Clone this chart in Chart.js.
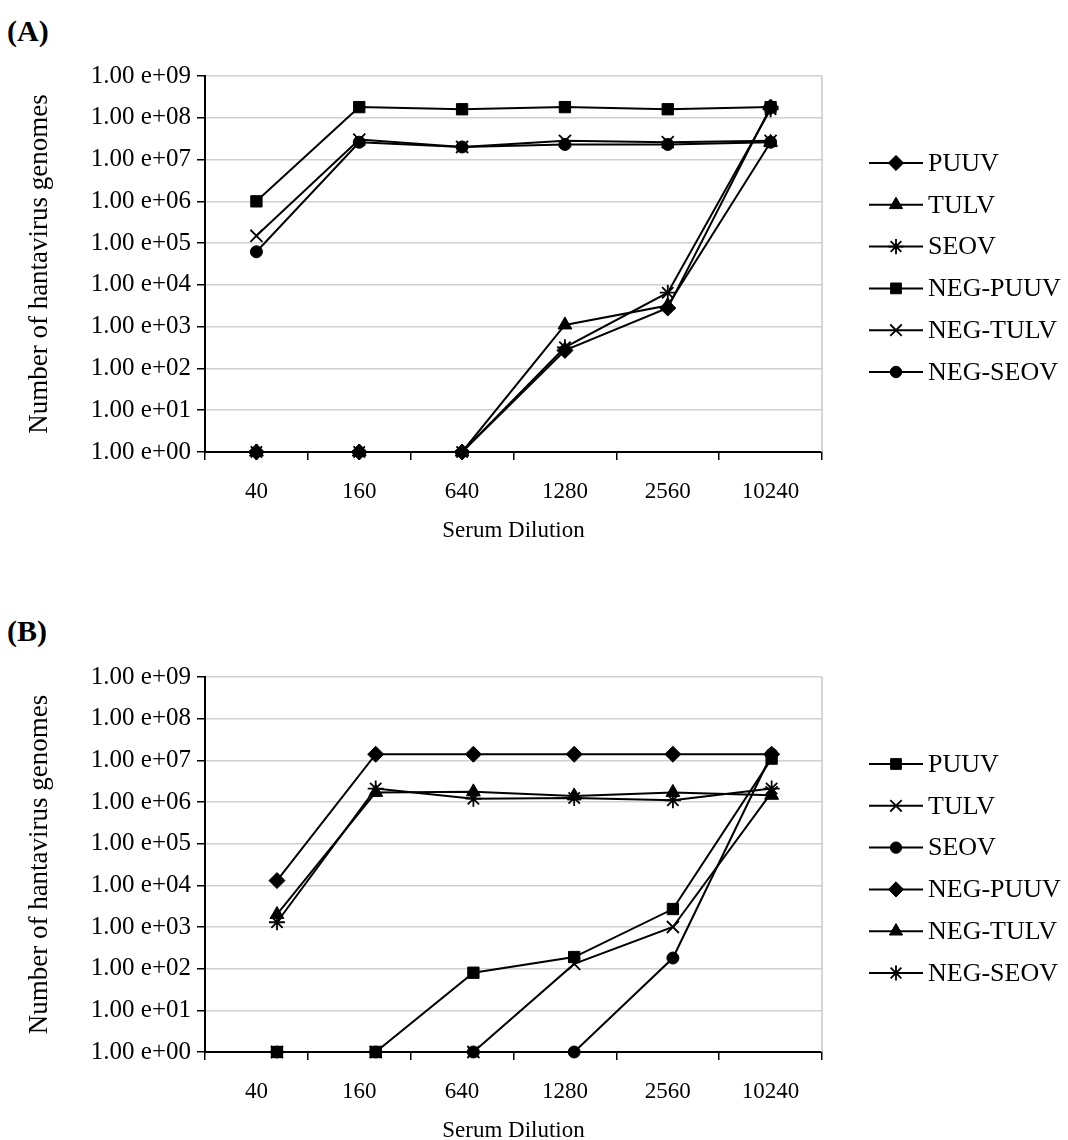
<!DOCTYPE html>
<html>
<head>
<meta charset="utf-8">
<script src="https://cdn.jsdelivr.net/npm/chart.js@4/dist/chart.umd.min.js"></script>
<style>
  html, body { margin: 0; padding: 0; background: #fff; }
  body { width: 1068px; height: 1140px; position: relative; overflow: hidden; font-family: "Liberation Serif", "Times New Roman", serif; }
  .wrap { position: absolute; left: 0; width: 1068px; height: 540px; }
  #wrapA { top: 0; }
  #wrapB { top: 600px; }
  .tag { position: absolute; left: 7px; font-weight: bold; font-size: 30px; line-height: 30px; }
</style>
</head>
<body>
<div class="tag" style="top:16px">(A)</div>
<div class="tag" style="top:616px">(B)</div>
<div class="wrap" id="wrapA"><canvas id="chartA" width="1068" height="540"></canvas></div>
<div class="wrap" id="wrapB"><canvas id="chartB" width="1068" height="540"></canvas></div>
<script>
const categories = ['40', '160', '640', '1280', '2560', '10240'];
const seriesNames = ['PUUV', 'TULV', 'SEOV', 'NEG-PUUV', 'NEG-TULV', 'NEG-SEOV'];
const yTickValues = [1, 1e1, 1e2, 1e3, 1e4, 1e5, 1e6, 1e7, 1e8, 1e9];
const yTickLabels = ['1.00 e+00', '1.00 e+01', '1.00 e+02', '1.00 e+03', '1.00 e+04',
                     '1.00 e+05', '1.00 e+06', '1.00 e+07', '1.00 e+08', '1.00 e+09'];

// (A) points sit on the category centres
const xPosA = [0, 1, 2, 3, 4, 5];
const puuvA    = [1, 1, 1, 270, 2800, 1.8e8];
const tulvA    = [1, 1, 1, 1100, 3200, 2.6e7];
const seovA    = [1, 1, 1, 320, 6500, 1.6e8];
const negPuuvA = [1.0e6, 1.8e8, 1.6e8, 1.8e8, 1.6e8, 1.8e8];
const negTulvA = [1.5e5, 3.0e7, 2.0e7, 2.8e7, 2.6e7, 2.8e7];
const negSeovA = [6.2e4, 2.6e7, 2.0e7, 2.3e7, 2.3e7, 2.6e7];

// (B) points are drawn a bit right of the centres in the original
const xPosB = [0.20, 1.16, 2.11, 3.09, 4.05, 5.01];
const puuvB    = [1, 1, 80, 190, 2700, 1.1e7];
const tulvB    = [1, 1, 1, 130, 1000, 1.7e6];
const seovB    = [1, 1, 1, 1, 180, 1.4e7];
const negPuuvB = [1.3e4, 1.4e7, 1.4e7, 1.4e7, 1.4e7, 1.4e7];
const negTulvB = [2.0e3, 1.7e6, 1.75e6, 1.4e6, 1.7e6, 1.45e6];
const negSeovB = [1.3e3, 2.1e6, 1.2e6, 1.25e6, 1.1e6, 2.1e6];

const markersA = ['rectRot', 'triangle', 'star', 'rect', 'crossRot', 'circle'];
const markersB = ['rect', 'crossRot', 'circle', 'rectRot', 'triangle', 'star'];
const markerSize = { rect: 8, rectRot: 8, triangle: 8, circle: 6, crossRot: 8.5, star: 8 };

Chart.defaults.font.family = '"Liberation Serif", "Times New Roman", serif';
Chart.defaults.color = '#000';

// grey right edge of the plot + legend with a line through each marker
const frameLegend = {
  id: 'frameLegend',
  beforeDatasetsDraw(chart) {
    const { ctx, chartArea } = chart;
    ctx.save();
    ctx.strokeStyle = '#c8c8c8';
    ctx.lineWidth = 1.5;
    ctx.beginPath();
    ctx.moveTo(chartArea.right, chartArea.top);
    ctx.lineTo(chartArea.right, chartArea.bottom);
    ctx.stroke();
    ctx.restore();
  },
  afterDraw(chart) {
    const { ctx, chartArea } = chart;
    const x0 = chartArea.right + 47;
    ctx.save();
    ctx.font = '26px "Liberation Serif"';
    ctx.textBaseline = 'middle';
    ctx.fillStyle = '#000';
    ctx.strokeStyle = '#000';
    chart.data.datasets.forEach((ds, i) => {
      const y = chartArea.top + 87 + i * 41.8;
      ctx.lineWidth = 2;
      ctx.beginPath();
      ctx.moveTo(x0, y);
      ctx.lineTo(x0 + 54, y);
      ctx.stroke();
      ctx.lineWidth = ds.pointBorderWidth;
      Chart.helpers.drawPoint(ctx, {
        pointStyle: ds.pointStyle, rotation: 0,
        radius: ds.pointRadius * 0.95, borderWidth: ds.pointBorderWidth
      }, x0 + 27, y);
      ctx.fillText(ds.label, x0 + 59, y + 1);
    });
    ctx.restore();
  }
};

function buildChart(id, xPos, values, markers, topPad) {
  const datasets = seriesNames.map((name, i) => ({
    label: name,
    data: values[i].map((v, j) => ({ x: xPos[j], y: v })),
    xAxisID: 'xd',
    borderColor: '#000',
    backgroundColor: '#000',
    borderWidth: 2,
    pointStyle: markers[i],
    pointRadius: markerSize[markers[i]],
    pointHoverRadius: markerSize[markers[i]],
    pointBorderWidth: (markers[i] === 'crossRot' || markers[i] === 'star') ? 1.8 : 1,
    pointBackgroundColor: '#000',
    pointBorderColor: '#000',
    tension: 0,
    fill: false,
    clip: false
  }));

  return new Chart(document.getElementById(id), {
    type: 'line',
    data: { labels: categories, datasets },
    options: {
      responsive: false,
      animation: false,
      layout: { padding: { top: topPad, right: 246, bottom: 0, left: 0 } },
      plugins: { legend: { display: false }, tooltip: { enabled: false } },
      scales: {
        x: {
          type: 'category',
          labels: categories,
          offset: true,
          afterFit: s => { s.height = 88; },
          grid: { offset: true, drawOnChartArea: false, tickLength: 8, tickColor: '#000', color: '#000', lineWidth: 1.5 },
          border: { color: '#000', width: 2 },
          ticks: { font: { size: 23 }, padding: 18, color: '#000' },
          title: { display: true, text: 'Serum Dilution', font: { size: 23, lineHeight: 0.8 }, padding: 0, color: '#000' }
        },
        xd: { type: 'linear', display: false, min: -0.5, max: 5.5 },
        y: {
          type: 'logarithmic',
          min: 1,
          max: 1e9,
          afterFit: s => { s.width = 205; },
          afterBuildTicks: s => { s.ticks = yTickValues.map(v => ({ value: v })); },
          grid: {
            color: c => (c.tick && c.tick.value === 1) ? '#000' : '#d0d0d0',
            tickColor: '#000',
            tickLength: 8,
            lineWidth: 1.5
          },
          border: { color: '#000', width: 2 },
          ticks: { font: { size: 25 }, padding: 6, color: '#000', callback: (v, i) => yTickLabels[i] },
          title: { display: true, text: 'Number of hantavirus genomes', font: { size: 27 }, padding: { top: 24, bottom: 0 }, color: '#000' }
        }
      }
    },
    plugins: [frameLegend]
  });
}

buildChart('chartA', xPosA, [puuvA, tulvA, seovA, negPuuvA, negTulvA, negSeovA], markersA, 76);
buildChart('chartB', xPosB, [puuvB, tulvB, seovB, negPuuvB, negTulvB, negSeovB], markersB, 77);
</script>
</body>
</html>
